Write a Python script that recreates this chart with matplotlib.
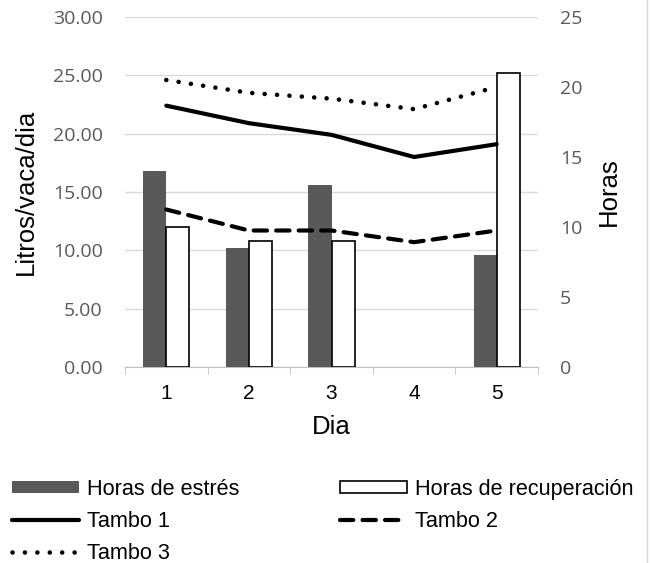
import matplotlib
matplotlib.use("Agg")
import matplotlib.pyplot as plt
from matplotlib.lines import Line2D
import numpy as np

plt.rcParams['font.family'] = ['Liberation Sans', 'DejaVu Sans']

# data
dias = [1, 2, 3, 4, 5]
horas_estres = [14, 8.5, 13, 0, 8]
horas_recup = [10, 9, 9, 0, 21]
tambo1 = [22.4, 20.9, 19.9, 18.0, 19.1]
tambo2 = [13.5, 11.7, 11.7, 10.7, 11.7]
tambo3 = [24.6, 23.5, 23.0, 22.1, 24.0]

gray_txt = "#595959"
tick_font = {'family': ['Open Sans', 'DejaVu Sans'], 'size': 14}
x = np.array(dias)
w = 0.28

fig = plt.figure(figsize=(6.52, 5.63), dpi=100)
ax1 = fig.add_axes([125/652, 1-367/563, (538-125)/652, (367-17)/563])
ax2 = ax1.twinx()   # bars, hours
ax3 = ax1.twinx()   # lines, same scale as ax1
ax1.set_zorder(1)
ax2.set_zorder(2)
ax3.set_zorder(3)
for a in (ax2, ax3):
    a.patch.set_visible(False)

# left axis with grid
ax1.set_ylim(0, 30)
ax1.set_yticks(np.arange(0, 31, 5))
ax1.set_yticklabels([f"{v:.2f}" for v in np.arange(0, 31, 5)], fontdict=tick_font)
ax1.grid(axis='y', color="#d9d9d9", lw=1)
ax1.set_ylabel("Litros/vaca/dia", fontsize=18.5, labelpad=11)
ax1.set_xlim(0.5, 5.5)
ax1.set_xticks(dias)
ax1.set_xticks(np.arange(0.5, 5.6, 1), minor=True)
ax1.tick_params(axis='x', which='major', length=0, labelsize=15, pad=12)
ax1.tick_params(axis='x', which='minor', length=5, color="#bfbfbf")
ax1.tick_params(axis='y', length=0, labelcolor=gray_txt, pad=16)
ax1.set_xlabel("Dia", fontsize=18.5, labelpad=9)
for s in ("top", "right", "left"):
    ax1.spines[s].set_visible(False)
ax1.spines["bottom"].set_color("#bfbfbf")

# bars on right axis
lw_rec = [1.2 if v > 0 else 0 for v in horas_recup]
b1 = ax2.bar(x - w/2, horas_estres, w, color="#595959", label="Horas de estrés")
b2 = ax2.bar(x + w/2, horas_recup, w, color="white", edgecolor="black", lw=lw_rec,
             label="Horas de recuperación")
ax2.set_ylim(0, 25)
ax2.set_yticks(np.arange(0, 26, 5))
ax2.set_yticklabels([str(v) for v in range(0, 26, 5)], fontdict=tick_font)
ax2.tick_params(axis='y', length=0, labelcolor=gray_txt, pad=16)
ax2.set_ylabel("Horas", fontsize=18.5, labelpad=10)
for s in ax2.spines.values():
    s.set_visible(False)

# lines
ax3.set_ylim(0, 30)
ax3.set_xlim(0.5, 5.5)
ax3.axis('off')
l1, = ax3.plot(x, tambo1, color="black", lw=3, solid_capstyle="round", label="Tambo 1")
l2, = ax3.plot(x, tambo2, color="black", lw=3, ls=(0, (3.2, 2.2)),
               dash_capstyle="round", label="Tambo 2")
l3, = ax3.plot(x, tambo3, color="black", lw=3.3, ls=(0, (0.01, 2.7)),
               dash_capstyle="round", label="Tambo 3")

leg = fig.legend([b1, l1, l3, b2, l2],
                 ["Horas de estrés", "Tambo 1", "Tambo 3", "Horas de recuperación", "Tambo 2"],
                 ncol=2, loc="upper left", bbox_to_anchor=(12/652, 1-479/563), frameon=False,
                 fontsize=15.6, handlelength=3.1, handleheight=0.5, handletextpad=0.37,
                 columnspacing=4.65, labelspacing=0.5, borderaxespad=0, borderpad=0)
leg.legend_handles[3].set_linewidth(1.2)

fig.add_artist(Line2D([647/652, 647/652], [0, 1], color="#d9d9d9", lw=1))

fig.savefig("out.png", dpi=100)
